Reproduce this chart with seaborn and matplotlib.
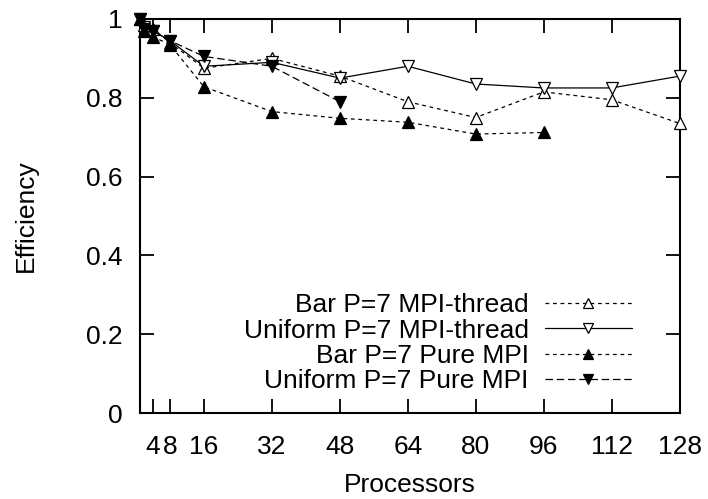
import matplotlib
matplotlib.use("Agg")
import matplotlib.pyplot as plt
import seaborn as sns
import pandas as pd

procs = [1, 2, 4, 8, 16, 32, 48, 64, 80, 96, 112, 128]
bar_thread = [1.0, 0.985, 0.975, 0.94, 0.875, 0.90, 0.855, 0.79, 0.75, 0.815, 0.795, 0.735]
uni_thread = [1.0, 0.98, 0.97, 0.945, 0.88, 0.89, 0.85, 0.88, 0.835, 0.825, 0.825, 0.855]
bar_mpi = [1.0, 0.97, 0.955, 0.935, 0.828, 0.765, 0.748, 0.738, 0.708, 0.712]
uni_mpi = [1.0, 0.975, 0.97, 0.945, 0.905, 0.88, 0.79]
labels = ["Bar P=7 MPI-thread", "Uniform P=7 MPI-thread",
          "Bar P=7 Pure MPI", "Uniform P=7 Pure MPI"]
xticks = [4, 8, 16, 32, 48, 64, 80, 96, 112, 128]
yticks = [0, 0.2, 0.4, 0.6, 0.8, 1.0]
ytick_labels = ["0", "0.2", "0.4", "0.6", "0.8", "1"]

FS = 19
sns.set_style("ticks")
plt.rcParams["font.family"] = ["Liberation Sans", "DejaVu Sans"]
plt.rcParams["font.size"] = FS
plt.rcParams["text.color"] = "black"
plt.rcParams["axes.labelcolor"] = "black"
plt.rcParams["xtick.color"] = "black"
plt.rcParams["ytick.color"] = "black"

fig = plt.figure(figsize=(7.08, 4.99), dpi=100)
ax = fig.add_axes([0.198, 0.172, 0.762, 0.790])

series = [bar_thread, uni_thread, bar_mpi, uni_mpi]
styles = [
    dict(marker="^", mfc="white", ls=(0, (3, 3))),
    dict(marker="v", mfc="white", ls="-"),
    dict(marker="^", mfc="black", ls=(0, (3, 3))),
    dict(marker="v", mfc="black", ls=(0, (6, 3))),
]
for vals, lab, st in zip(series, labels, styles):
    df = pd.DataFrame({"Processors": procs[:len(vals)], "Efficiency": vals})
    sns.lineplot(data=df, x="Processors", y="Efficiency", ax=ax, color="black",
                 linewidth=0.9, marker=st["marker"], markersize=9,
                 markerfacecolor=st["mfc"], markeredgecolor="black",
                 markeredgewidth=0.9, linestyle=st["ls"], label=lab,
                 clip_on=False, zorder=3)

ax.set_xlim(1, 128)
ax.set_ylim(0, 1)
ax.set_xticks(xticks)
ax.set_xticklabels([str(t) for t in xticks])
ax.set_yticks(yticks)
ax.set_yticklabels(ytick_labels)
ax.tick_params(direction="in", length=10, width=1.3, top=True, right=True,
               labelsize=FS, colors="black")
ax.tick_params(axis="x", pad=16)
ax.tick_params(axis="y", pad=13)
for s in ax.spines.values():
    s.set_linewidth(1.5)
    s.set_color("black")
ax.set_xlabel("Processors", fontsize=FS, labelpad=9.5, color="black")
ax.set_ylabel("Efficiency", fontsize=FS, labelpad=34, color="black")

leg = ax.legend(loc="lower right", bbox_to_anchor=(0.955, -0.01), frameon=False,
                markerfirst=False, handlelength=3.3, handletextpad=0.6,
                labelspacing=0.05, fontsize=FS, markerscale=0.8)
for t in leg.get_texts():
    t.set_color("black")

fig.savefig("out.png", dpi=100)
